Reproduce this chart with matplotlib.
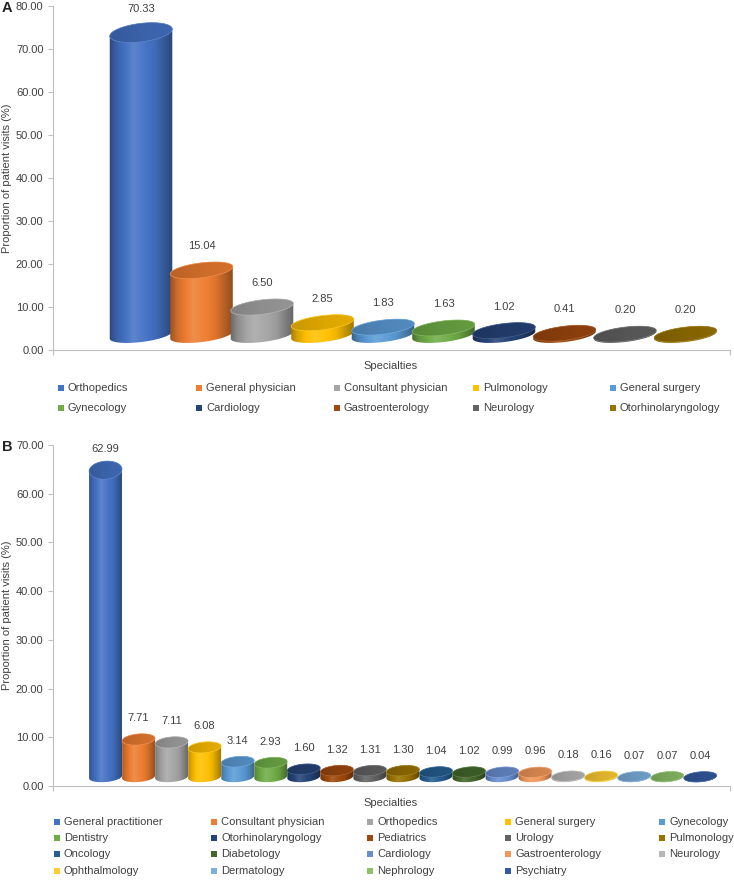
import numpy as np
import matplotlib
matplotlib.use("Agg")
import matplotlib.pyplot as plt
from matplotlib.patches import Polygon, Rectangle
from matplotlib.colors import to_rgb

plt.rcParams['font.family'] = ['Liberation Sans', 'DejaVu Sans']

W, H = 734, 880
TXT = '#404040'
LINE = '#bfbfbf'
FS = 8

# panel A data
specialties_a = ["Orthopedics", "General physician", "Consultant physician", "Pulmonology",
                 "General surgery", "Gynecology", "Cardiology", "Gastroenterology",
                 "Neurology", "Otorhinolaryngology"]
visits_a = [70.33, 15.04, 6.50, 2.85, 1.83, 1.63, 1.02, 0.41, 0.20, 0.20]

# panel B data
specialties_b = ["General practitioner", "Consultant physician", "Orthopedics", "General surgery",
                 "Gynecology", "Dentistry", "Otorhinolaryngology", "Pediatrics", "Urology",
                 "Pulmonology", "Oncology", "Diabetology", "Cardiology", "Gastroenterology",
                 "Neurology", "Ophthalmology", "Dermatology", "Nephrology", "Psychiatry"]
visits_b = [62.99, 7.71, 7.11, 6.08, 3.14, 2.93, 1.60, 1.32, 1.31, 1.30,
            1.04, 1.02, 0.99, 0.96, 0.18, 0.16, 0.07, 0.07, 0.04]

# office palette
colors_a = ["#4472C4", "#ED7D31", "#A5A5A5", "#FFC000", "#5B9BD5", "#70AD47",
            "#264478", "#9E480E", "#636363", "#997300"]
colors_b = ["#4472C4", "#ED7D31", "#A5A5A5", "#FFC000", "#5B9BD5", "#70AD47",
            "#264478", "#9E480E", "#636363", "#997300", "#255E91", "#43682B",
            "#698ED0", "#F1975A", "#B7B7B7", "#FFCD33", "#7CAFDD", "#8CC168", "#335AA1"]


def shade(c, f):
    c = np.array(to_rgb(c))
    if f < 1:
        return c * f
    return c + (1 - c) * (f - 1)


def gradient(c, stops_t, stops_f, n=64):
    t = np.linspace(0, 1, n)
    f = np.interp(t, stops_t, stops_f)
    return np.array([[shade(c, v) for v in f]])


def ellipse_pts(cx, cy, a, b, ang, t, ppx, ppy):
    ex, ey = a * np.cos(t), b * np.sin(t)
    ca, sa = np.cos(ang), np.sin(ang)
    rx = ex * ca - ey * sa
    ry = ex * sa + ey * ca
    return np.column_stack([cx + rx / ppx, cy + ry / ppy])


def draw_panel(rect, values, colors, ymax, xlim, width_px, lift_px, b0, b1, label_px, angle_deg):
    ax = fig.add_axes(rect)
    ax.set_xlim(*xlim)
    ax.set_ylim(0, ymax)
    ax.set_autoscale_on(False)
    pos = ax.get_position()
    ppx = pos.width * W / (xlim[1] - xlim[0])
    ppy = pos.height * H / ymax
    ang = np.deg2rad(angle_deg)
    a = width_px / 2
    vmax = max(values)

    for i, (v, c) in enumerate(zip(values, colors)):
        z = 2 + i * 0.1
        yb = lift_px / ppy
        yt = v + lift_px / ppy
        bt = b0 + b1 * v / vmax
        bottom = ellipse_pts(i, yb, a, b0, ang, np.linspace(np.pi, 2 * np.pi, 60), ppx, ppy)
        upper = ellipse_pts(i, yt, a, bt, ang, np.linspace(0, np.pi, 60), ppx, ppy)
        body = Polygon(np.vstack([bottom, upper]), closed=True, facecolor='none', edgecolor='none')
        ax.add_patch(body)
        ext = [i - (a + 2) / ppx, i + (a + 2) / ppx, yb - (b0 + 6) / ppy, yt + (bt + 6) / ppy]
        im = ax.imshow(gradient(c, [0, 0.12, 0.38, 0.72, 1.0], [0.6, 0.85, 1.13, 0.93, 0.58]),
                       extent=ext, aspect='auto', origin='lower', interpolation='bilinear', zorder=z)
        im.set_clip_path(body)

        top_pts = ellipse_pts(i, yt, a, bt, ang, np.linspace(0, 2 * np.pi, 90), ppx, ppy)
        top = Polygon(top_pts, closed=True, facecolor='none', edgecolor=shade(c, 1.15),
                      linewidth=0.5, zorder=z + 0.06)
        ax.add_patch(top)
        ext_t = [i - (a + 2) / ppx, i + (a + 2) / ppx, yt - (bt + 6) / ppy, yt + (bt + 6) / ppy]
        imt = ax.imshow(gradient(c, [0, 0.5, 1.0], [0.78, 0.86, 0.9]), extent=ext_t, aspect='auto',
                        origin='lower', interpolation='bilinear', zorder=z + 0.05)
        imt.set_clip_path(top)

        ax.text(i, v + label_px / ppy, f"{v:.2f}", ha='center', va='center', fontsize=FS, color=TXT)

    ax.set_xlim(*xlim)
    ax.set_ylim(0, ymax)
    ax.spines['top'].set_visible(False)
    ax.spines['right'].set_visible(False)
    for s in ('left', 'bottom'):
        ax.spines[s].set_color(LINE)
        ax.spines[s].set_linewidth(0.8)
    ticks = np.arange(0, ymax + 1, 10)
    ax.set_yticks(ticks)
    ax.set_yticklabels([f"{t:.2f}" for t in ticks])
    ax.set_xticks([xlim[0], xlim[1]])
    ax.set_xticklabels([])
    ax.tick_params(direction='out', length=3.6, width=0.8, color=LINE, labelcolor=TXT,
                   labelsize=FS, pad=3.2)
    return ax


def legend(names, colors, cols_px, rows_px):
    for k, (name, c) in enumerate(zip(names, colors)):
        mx = cols_px[k % 5]
        my = rows_px[k // 5]
        fig.add_artist(Rectangle(((mx - 3) / W, 1 - (my + 3) / H), 6 / W, 6 / H,
                                 transform=fig.transFigure, facecolor=c, edgecolor='none'))
        fig.text((mx + 7) / W, 1 - my / H, name, ha='left', va='center', fontsize=FS, color=TXT)


fig = plt.figure(figsize=(W / 100, H / 100), dpi=100)

# panel A
draw_panel([53 / W, 1 - 350 / H, 677 / W, 344 / H], visits_a, colors_a, 80, (-1.455, 9.736),
           63, 15, 7, 2.2, 39, 7)
fig.text(7 / W, 1 - 178 / H, "Proportion of patient visits (%)", rotation=90,
         ha='center', va='center', fontsize=FS, color=TXT)
fig.text(391 / W, 1 - 366 / H, "Specialties", ha='center', va='center', fontsize=FS, color=TXT)
fig.text(7 / W, 1 - 8 / H, "A", ha='center', va='center', fontsize=10.5, fontweight='bold', color='#222222')
legend(specialties_a, colors_a, [61, 199, 337, 476, 613], [388, 408])

# panel B
draw_panel([53 / W, 1 - 786 / H, 677 / W, 341 / H], visits_b, colors_b, 70, (-1.59, 18.9),
           33, 9, 5, 4, 30, 5)
fig.text(7 / W, 1 - 615 / H, "Proportion of patient visits (%)", rotation=90,
         ha='center', va='center', fontsize=FS, color=TXT)
fig.text(391 / W, 1 - 803 / H, "Specialties", ha='center', va='center', fontsize=FS, color=TXT)
fig.text(7 / W, 1 - 447 / H, "B", ha='center', va='center', fontsize=10.5, fontweight='bold', color='#222222')
legend(specialties_b, colors_b, [57, 214, 370, 508, 662], [822, 838, 854, 871])

fig.savefig("out.png", dpi=100, facecolor='white')
